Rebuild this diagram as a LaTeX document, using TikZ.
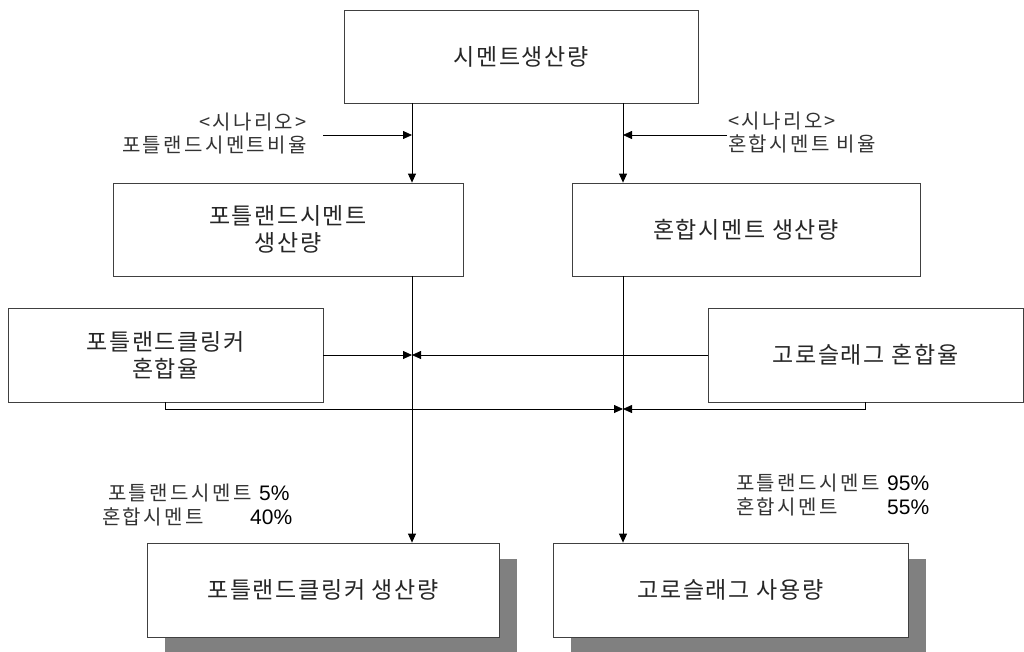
\documentclass[tikz,border=0pt]{standalone}
\usepackage{fontspec}
\setmainfont{Noto Sans CJK KR}
\newfontfamily\krlbl[LetterSpace=12]{Noto Sans CJK KR}
\newfontfamily\krbox[LetterSpace=7]{Noto Sans CJK KR}
\newfontfamily\numfont{Liberation Sans}
\usetikzlibrary{arrows.meta,shadows}
\begin{document}
\begin{tikzpicture}[x=1pt,y=-1pt,
  box/.style={draw=black!75,line width=0.8pt,fill=white,inner sep=0pt,align=center,
    font=\fontsize{23}{27}\krbox,text=black!85},
  shbox/.style={box,drop shadow={shadow xshift=18pt,shadow yshift=-16pt,fill=black!50,opacity=1}},
  lbl/.style={inner sep=0pt,font=\fontsize{20}{23}\krlbl,text=black!80},
  num/.style={inner sep=0pt,font=\fontsize{21}{23}\numfont,anchor=west},
  arr/.style={draw=black,line width=0.8pt,-{Triangle[length=9pt,width=8pt]}}]
\useasboundingbox[fill=white] (0,0) rectangle (1024,651);
% boxes
\node[box,minimum width=354pt,minimum height=93pt] (top) at (521,56.5) {시멘트생산량};
\node[box,minimum width=350pt,minimum height=93pt] (pc) at (288,229.5) {포틀랜드시멘트\\생산량};
\node[box,minimum width=348pt,minimum height=93pt] (bc) at (746,229.5) {혼합시멘트 생산량};
\node[box,minimum width=315pt,minimum height=94pt] (pkm) at (165.5,355) {포틀랜드클링커\\혼합율};
\node[box,minimum width=315pt,minimum height=94pt] (gsm) at (865.5,355) {고로슬래그 혼합율};
\node[shbox,minimum width=352pt,minimum height=94pt] (pkp) at (323,590) {포틀랜드클링커 생산량};
\node[shbox,minimum width=355pt,minimum height=94pt] (gsu) at (730.5,590) {고로슬래그 사용량};
% labels
\node[lbl,anchor=east,align=right] (lsc) at (307,133.5) {<시나리오>\\포틀랜드시멘트비율};
\node[lbl,anchor=west,align=left] (rsc) at (728,133) {<시나리오>\\혼합시멘트 비율};
\node[lbl,anchor=west] (lp1) at (108,493) {포틀랜드시멘트};
\node[num] (lp1n) at (259,493) {5\%};
\node[lbl,anchor=west] (lp2) at (102,517) {혼합시멘트};
\node[num] (lp2n) at (250,517) {40\%};
\node[lbl,anchor=west] (rp1) at (736,483) {포틀랜드시멘트};
\node[num] (rp1n) at (887,483) {95\%};
\node[lbl,anchor=west] (rp2) at (736,507) {혼합시멘트};
\node[num] (rp2n) at (887,507) {55\%};
% coordinates
\coordinate (xl) at (412,0);
\coordinate (xr) at (623,0);
\coordinate (ls) at (323,135);
\coordinate (rs) at (727,135);
\coordinate (yb) at (0,409);
% connectors
\draw[arr] (top.south -| xl) -- (pc.north -| xl);
\draw[arr] (top.south -| xr) -- (bc.north -| xr);
\draw[arr] (ls) -- (ls -| xl);
\draw[arr] (rs) -- (rs -| xr);
\draw[arr] (pc.south -| xl) -- (pkp.north -| xl);
\draw[arr] (bc.south -| xr) -- (gsu.north -| xr);
\draw[arr] (pkm.east) -- (pkm.east -| xl);
\draw[arr] (gsm.west) -- (gsm.west -| xl);
\draw[arr] (pkm.south) |- (yb -| xr);
\draw[arr] (gsm.south) |- (yb -| xr);
\end{tikzpicture}
\end{document}
